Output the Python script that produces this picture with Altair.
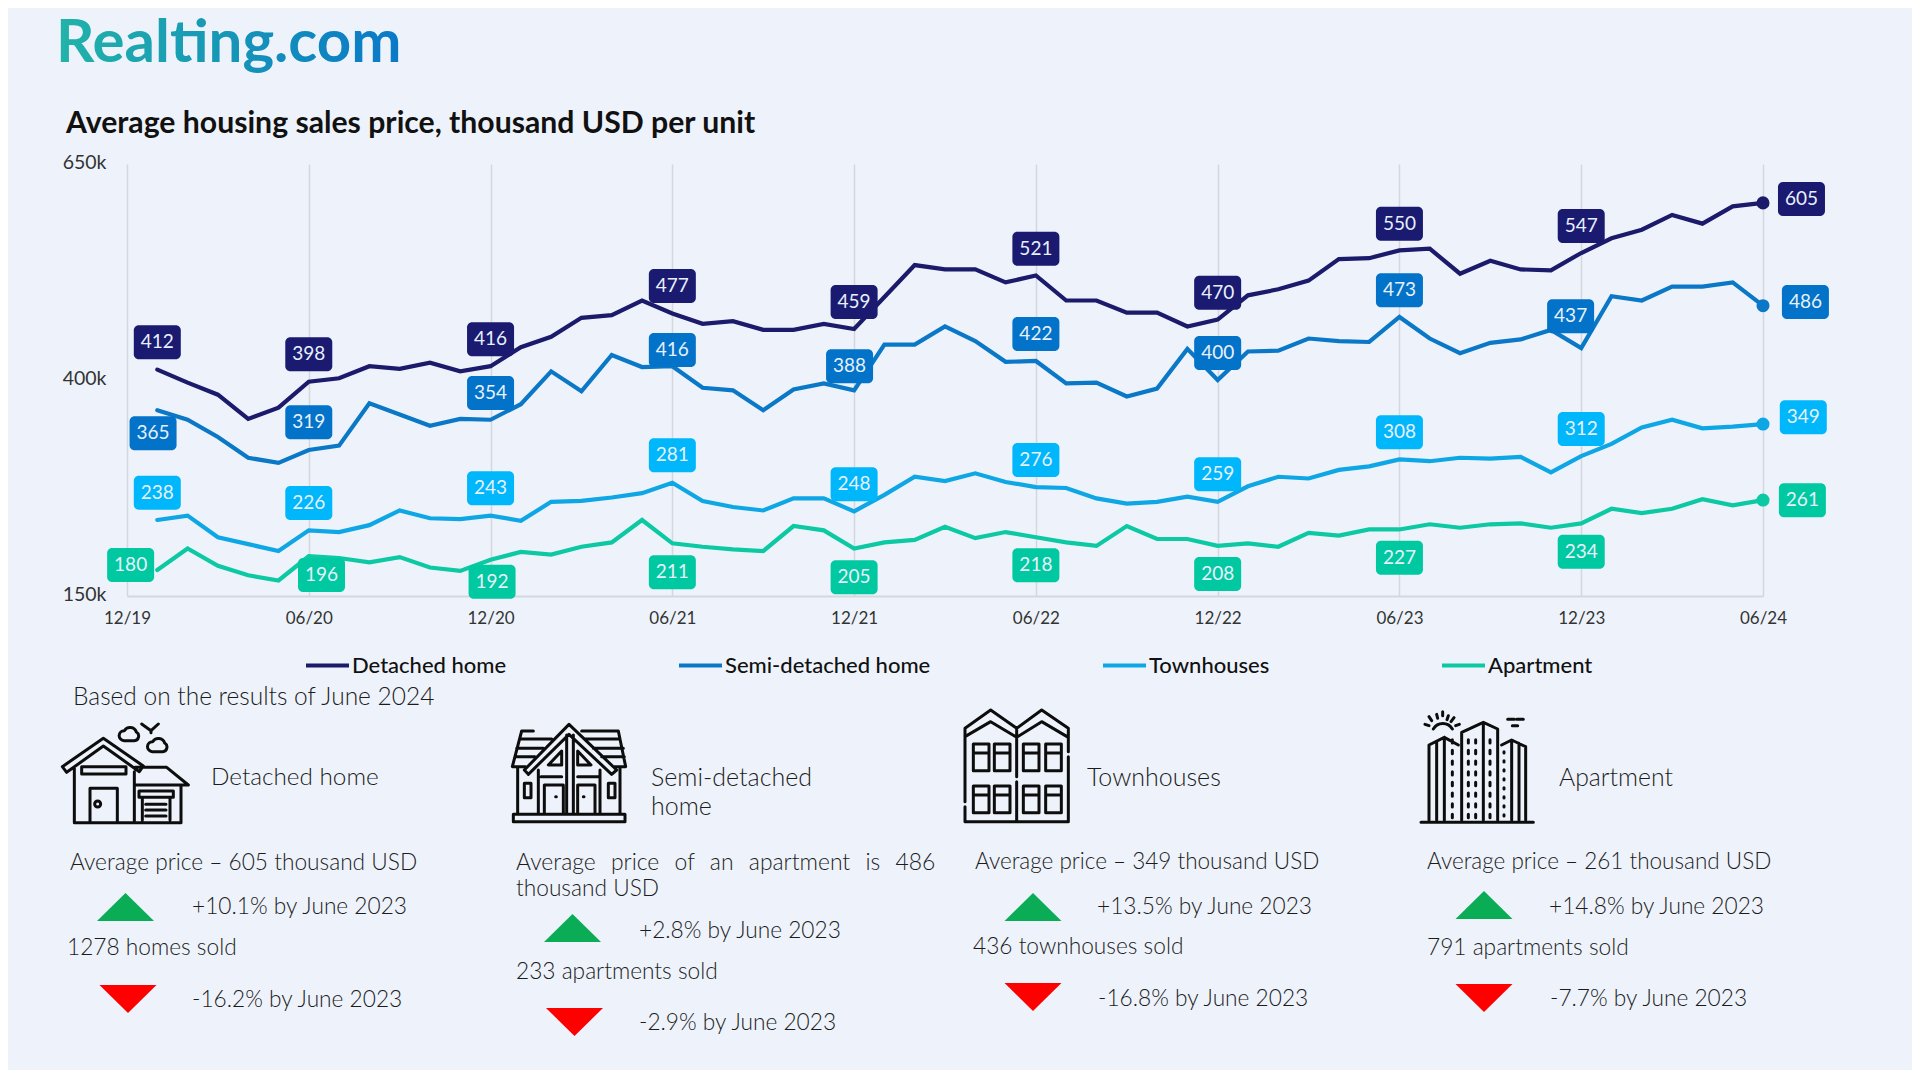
import altair as alt
import pandas as pd

series_names = ["Detached home", "Semi-detached home", "Townhouses", "Apartment"]
line_colors = ["#1b1a6b", "#0a78c6", "#0ea6e4", "#0cc9a4"]
badge_colors = ["#1a1a70", "#0273c8", "#00b7fb", "#00c9a2"]

detached = [412,397,383,355,368,398,402,416,413,420,410,416,
            438,450,472,475,492,477,465,468,458,458,465,459,
            496,533,528,528,513,521,492,492,478,478,462,470,
            498,505,515,540,541,550,552,523,538,528,527,547,
            564,574,591,581,601,605]
semi = [365,354,334,310,304,319,324,373,360,347,355,354,
        372,410,387,429,415,416,391,388,365,389,396,388,
        441,441,462,445,421,422,396,397,381,390,436,400,
        433,434,448,445,444,473,448,431,443,447,458,437,
        497,492,508,508,513,486]
town = [238,243,218,210,202,226,224,232,249,240,239,243,
        237,259,260,264,269,281,260,253,249,263,263,248,
        267,288,283,292,282,276,275,263,257,259,265,259,
        277,288,286,296,300,308,306,310,309,311,293,312,
        326,345,354,344,346,349]
apartment = [180,205,185,174,168,196,194,189,195,183,179,192,
             201,198,207,212,238,211,207,204,202,231,226,205,
             212,215,230,217,224,218,212,208,231,216,216,208,
             211,207,223,220,227,227,233,229,233,234,229,234,
             251,246,251,262,255,261]
all_series = [detached, semi, town, apartment]

tick_labels = ["12/19","06/20","12/20","06/21","12/21","06/22","12/22","06/23","12/23","06/24"]
y_ticks = [150, 400, 650]

badge_text = [
    [412,398,416,477,459,521,470,550,547,605],
    [365,319,354,416,388,422,400,473,437,486],
    [238,226,243,281,248,276,259,308,312,349],
    [180,196,192,211,205,218,208,227,234,261],
]
badge_month = [
    [1.0,6,12,18,24,30,36,42,48,55.27],
    [0.86,6,12,18,23.85,30,36,42,47.65,55.4],
    [1.0,6,12,18,24,30,36,42,48,55.33],
    [0.12,6.42,12.05,18,24,30,36,42,48,55.3],
]
badge_level = [
    [443.6,429.7,447.1,508.8,490.3,552,501,580.9,578.2,609.5],
    [338.3,351,385,434.7,415.9,453.2,431.3,503.8,473.7,490.3],
    [269.6,257.6,274.7,312.8,279.3,307.4,290.9,339.5,343.3,356.8],
    [185.9,174.3,166.6,177.4,171.6,185.5,175.5,194.3,201.3,260.8],
]

FONT = "Lato"
BG = "#eef3fb"
INK = "#1c1c1c"
PLOT_LEFT, PLOT_TOP = 127, 164
PLOT_W, PLOT_H = 1636, 432

rows = []
for name, vals in zip(series_names, all_series):
    for i, v in enumerate(vals):
        rows.append({"month": i + 1, "value": v, "series": name})
lines_df = pd.DataFrame(rows)
ends_df = lines_df[lines_df["month"] == 54]

brows = []
for name, t, m, l in zip(series_names, badge_text, badge_month, badge_level):
    for a, b, c in zip(t, m, l):
        brows.append({"series": name, "label": str(a), "month": b, "level": c})
badge_df = pd.DataFrame(brows)

x_enc = alt.X("month:Q", title=None,
              scale=alt.Scale(domain=[0, 54], nice=False),
              axis=alt.Axis(values=[i * 6 for i in range(len(tick_labels))],
                            labelExpr=str(tick_labels) + "[datum.value/6]",
                            grid=True, gridColor="#d4d8de", gridWidth=1.5,
                            domainColor="#d4d8de", domainWidth=2, ticks=False,
                            labelFlush=False, labelOverlap=False, labelPadding=14,
                            labelFont=FONT, labelFontSize=17, labelColor="#333333"))
y_enc = alt.Y("value:Q", title=None,
              scale=alt.Scale(domain=[150, 650], nice=False),
              axis=alt.Axis(values=y_ticks, labelExpr="datum.value + 'k'",
                            grid=False, domain=False, ticks=False, labelPadding=21,
                            labelOffset=-2, labelFont=FONT, labelFontSize=19.5,
                            labelColor="#333333"))

color_scale = alt.Scale(domain=series_names, range=line_colors)
lines = alt.Chart(lines_df).mark_line(strokeWidth=4.2, strokeCap="round", strokeJoin="miter").encode(
    x=x_enc, y=y_enc,
    color=alt.Color("series:N", scale=color_scale,
                    legend=alt.Legend(orient="none", legendX=304 - PLOT_LEFT, legendY=642 - PLOT_TOP,
                                      direction="horizontal", columns=4, gridAlign="none",
                                      columnPadding=164, title=None, symbolType="stroke",
                                      symbolSize=1849, symbolStrokeWidth=4, labelOffset=1,
                                      labelLimit=400,
                                      labelFont=FONT, labelFontSize=22, labelFontWeight=500,
                                      labelColor="#111111", padding=0)),
)
ends = alt.Chart(ends_df).mark_circle(size=170, opacity=1).encode(
    x="month:Q", y="value:Q", color=alt.Color("series:N", scale=color_scale, legend=None))

badge_rect = alt.Chart(badge_df).mark_rect(width=47, height=34, cornerRadius=5).encode(
    x="month:Q", y=alt.Y("level:Q"),
    fill=alt.Fill("series:N", scale=alt.Scale(domain=series_names, range=badge_colors), legend=None))
badge_label = alt.Chart(badge_df).mark_text(font=FONT, fontSize=19, color="#e8f0fb", baseline="middle",
                                            align="center").encode(
    x="month:Q", y=alt.Y("level:Q"), text="label:N")

one = alt.Data(values=[{}])


def note(text, X, Y, size=24, weight=300, color=INK, **kw):
    return alt.Chart(one).mark_text(font=FONT, fontSize=size, fontWeight=weight, color=color,
                                    align="left", baseline="middle", **kw).encode(
        x=alt.value(X - PLOT_LEFT), y=alt.value(Y + 1 - PLOT_TOP), text=alt.value(text))


def glyph(path, X, Y, scale=1.0, fill=None, stroke=None, width=3.0):
    # Vega draws a custom symbol at sqrt(size)/2 pixels per path unit
    kw = dict(shape=path, size=(2 * scale) ** 2, opacity=1, strokeCap="round", strokeJoin="round")
    if fill:
        kw.update(filled=True, fill=fill, strokeWidth=0)
    else:
        kw.update(filled=False, stroke=stroke, strokeWidth=width)
    return alt.Chart(one).mark_point(**kw).encode(x=alt.value(X - PLOT_LEFT), y=alt.value(Y - PLOT_TOP))


TRI_UP = "M-28.5,14L28.5,14L0,-14Z"
TRI_DOWN = "M-28.5,-14L28.5,-14L0,14Z"
GREEN, RED = "#0aad55", "#fe0000"


def up(X, Y):
    return glyph(TRI_UP, X, Y, fill=GREEN)


def down(X, Y):
    return glyph(TRI_DOWN, X, Y, fill=RED)


ICON_DETACHED = ("M35,187L22,170L145,85L265,168L253,185L145,108Z"
                 "M58,172V338H378V228M240,172H335L400,225H240M238,185V338"
                 "M80,170H213V192H80Z"
                 "M105,338V235H187V338M119,282a9,9 0 1,0 18,0a9,9 0 1,0 -18,0"
                 "M252,243H355V262H252ZM262,262V330M345,262V330"
                 "M272,283H333M272,300H333M272,318H333"
                 "M207,92H238A14,14 0 0 0 244,66A20,20 0 0 0 208,62A15,15 0 0 0 207,92Z"
                 "M292,125H323A14,14 0 0 0 329,99A20,20 0 0 0 293,95A15,15 0 0 0 292,125Z"
                 "M260,42L288,62L310,42M288,62V68")
ICON_SEMI = ("M25,298H360V320H25Z"
             "M58,165L192,28L335,165L320,178L192,58L70,178Z"
             "M185,60V295M205,60V295"
             "M85,48H50L22,155H62M230,48H340L362,155H325"
             "M45,72H140M35,100H115M30,125H90M240,72H345M265,100H355M290,125H358"
             "M38,155V298M100,165V298M285,165V298M345,155V298"
             "M170,108L130,150H170ZM218,108L258,150H218Z"
             "M108,185H170M218,185H280"
             "M118,295V210H175V295M218,295V210H270V295"
             "M152,245h2M235,245h2"
             "M58,205H78V248H58ZM310,205H330V248H310Z")
town_windows = ""
for wy in (132, 258):
    for wx in (55, 118, 205, 272):
        town_windows += f"M{wx},{wy}h47v80h-47ZM{wx},{wy + 27}h47"
ICON_TOWN = ("M30,110V85L107,30L185,85L260,30L340,85V155"
             "M30,110L107,65L185,112L260,65L340,112"
             "M185,85V230M185,245V360"
             "M30,110V305M30,320V365H340V170" + town_windows)
apt_dots = ""
for dx_ in (112, 160, 182, 225):
    for k in range(8):
        apt_dots += f"M{dx_},{104 + k * 32}v10"
for k in range(8):
    apt_dots += f"M267,{140 + k * 27}v4"
ICON_APT = ("M18,352H355"
            "M140,345V82L205,52L248,72V345M205,52V345"
            "M42,345V120L88,97L130,120M65,112V345M88,97V345"
            "M260,120L290,105L332,125V345M290,105V345M312,115V345"
            "M55,72A33,33 0 0 1 112,72"
            "M30,58L42,62M42,35L50,47M65,28L68,40M83,20V32M100,32L96,44M117,38L108,50M133,58L122,62"
            "M278,43H298M305,43H325M292,62H308" + apt_dots)

logo = alt.Chart(one).mark_text(
    font=FONT, fontSize=60, fontWeight=700, align="left", baseline="alphabetic",
    fill=alt.LinearGradient(gradient="linear", x1=0, x2=1, y1=0, y2=0,
                            stops=[alt.GradientStop(color="#22b3a8", offset=0),
                                   alt.GradientStop(color="#0a78c8", offset=1)])
).encode(x=alt.value(56 - PLOT_LEFT), y=alt.value(62 - PLOT_TOP), text=alt.value("Realting.com"))

SP = " \u00a0\u2009"
layers = [
    lines, ends, badge_rect, badge_label, logo,
    note("Average housing sales price, thousand USD per unit", 66, 123, size=30.2, weight=700, color="#111111"),
    note("Based on the results of June 2024", 73, 697, size=24.5),
    glyph(ICON_DETACHED, 55, 710, scale=1 / 3, stroke="#0d0d0d"),
    glyph(ICON_SEMI, 505, 715, scale=1 / 3, stroke="#0d0d0d"),
    glyph(ICON_TOWN, 955, 700, scale=1 / 3, stroke="#0d0d0d"),
    glyph(ICON_APT, 1415, 705, scale=1 / 3, stroke="#0d0d0d"),
    note("Detached home", 211, 777, size=24.3),
    note("Average price  – 605 thousand USD", 70, 862, size=22.7),
    up(125.5, 907), note("+10.1% by June 2023", 192, 906, size=22.7),
    note("1278 homes sold", 67, 947, size=22.7),
    down(128, 999), note("-16.2% by June 2023", 192, 999, size=22.7),
    note("Semi-detached", 651, 777, size=25),
    note("home", 651, 806, size=25),
    note(SP.join(["Average", "price", "of", "an", "apartment", "is", "486"]), 516, 862, size=22.9),
    note("thousand USD", 516, 888, size=22.7),
    up(572.5, 928), note("+2.8% by June 2023", 639, 930, size=22.7),
    note("233 apartments sold", 516, 971, size=22.7),
    down(574.5, 1022), note("-2.9% by June 2023", 639, 1022, size=22.7),
    note("Townhouses", 1087, 777, size=25),
    note("Average price – 349 thousand USD", 975, 861, size=22.5),
    up(1033, 907), note("+13.5% by June 2023", 1097, 906, size=22.7),
    note("436 townhouses sold", 973, 946, size=22.7),
    down(1033, 997), note("-16.8% by June 2023", 1098, 998, size=22.7),
    note("Apartment", 1559, 778, size=24.8),
    note("Average price – 261 thousand USD", 1427, 861, size=22.5),
    up(1484, 905), note("+14.8% by June 2023", 1549, 906, size=22.7),
    note("791 apartments sold", 1427, 947, size=22.7),
    down(1484, 998), note("-7.7% by June 2023", 1550, 998, size=22.7),
]

chart = alt.layer(*layers).resolve_scale(color="shared").properties(
    width=PLOT_W, height=PLOT_H,
    autosize=alt.AutoSizeParams(type="none"),
    padding={"left": PLOT_LEFT - 8, "top": PLOT_TOP - 8,
             "right": 1904 - PLOT_W - (PLOT_LEFT - 8),
             "bottom": 1062 - PLOT_H - (PLOT_TOP - 8)},
    background=BG,
).configure_view(strokeWidth=0)

chart.save("out.html", embed_options={"renderer": "svg", "actions": False})
